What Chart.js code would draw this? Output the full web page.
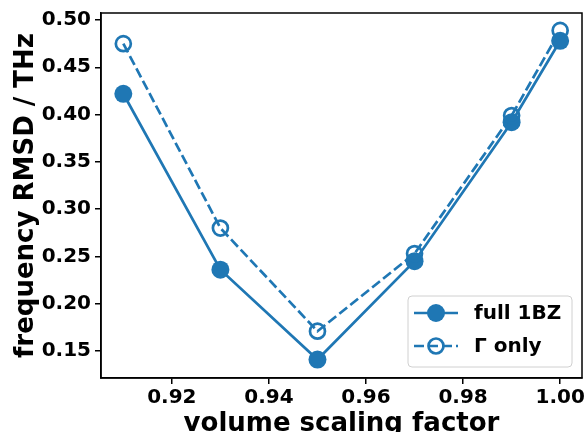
<!DOCTYPE html>
<html>
<head>
<meta charset="utf-8">
<script src="https://cdn.jsdelivr.net/npm/chart.js@4/dist/chart.umd.min.js"></script>
<style>
  html, body { margin: 0; padding: 0; background: #fff; }
  #wrap { width: 585px; height: 432px; }
</style>
</head>
<body>
<div id="wrap"><canvas id="canvas" width="585" height="432"></canvas></div>
<script>
const scaling = [0.91, 0.93, 0.95, 0.97, 0.99, 1.00];
const full1BZ = [0.422, 0.236, 0.141, 0.245, 0.392, 0.478];
const gammaOnly = [0.475, 0.280, 0.171, 0.253, 0.399, 0.489];
const xTicks = [0.92, 0.94, 0.96, 0.98, 1.00];
const yTicks = [0.15, 0.20, 0.25, 0.30, 0.35, 0.40, 0.45, 0.50];

const blue = '#1f77b4';
const fontFam = '"DejaVu Sans", sans-serif';
const dash = [10, 4];

const toPoints = (ys) => scaling.map((x, i) => ({x: x, y: ys[i]}));

// frame, axis titles and legend box drawn on top
const extras = {
    id: 'extras',
    afterDraw(chart) {
        const ctx = chart.ctx;
        const a = chart.chartArea;
        ctx.save();
        ctx.strokeStyle = '#000';
        ctx.lineWidth = 1.5;
        ctx.strokeRect(a.left, a.top, a.right - a.left, a.bottom - a.top);

        ctx.fillStyle = '#000';
        ctx.font = 'bold 26px ' + fontFam;
        ctx.textAlign = 'center';
        ctx.textBaseline = 'alphabetic';
        ctx.fillText('volume scaling factor', (a.left + a.right) / 2, 431);
        ctx.save();
        ctx.translate(33, (a.top + a.bottom) / 2);
        ctx.rotate(-Math.PI / 2);
        ctx.fillText('frequency RMSD / THz', 0, 0);
        ctx.restore();

        // legend
        const bx = 408, by = 296, bw = 164, bh = 71, r = 4;
        ctx.beginPath();
        ctx.moveTo(bx + r, by);
        ctx.arcTo(bx + bw, by, bx + bw, by + bh, r);
        ctx.arcTo(bx + bw, by + bh, bx, by + bh, r);
        ctx.arcTo(bx, by + bh, bx, by, r);
        ctx.arcTo(bx, by, bx + bw, by, r);
        ctx.closePath();
        ctx.fillStyle = 'rgba(255,255,255,0.8)';
        ctx.fill();
        ctx.strokeStyle = '#d0d0d0';
        ctx.lineWidth = 1;
        ctx.stroke();

        const rows = [
            {label: 'full 1BZ', y: 313, dash: [], filled: true},
            {label: 'Γ only', y: 346, dash: dash, filled: false}
        ];
        rows.forEach(row => {
            ctx.strokeStyle = blue;
            ctx.lineWidth = 2.7;
            ctx.setLineDash(row.dash);
            ctx.beginPath();
            ctx.moveTo(414, row.y);
            ctx.lineTo(458, row.y);
            ctx.stroke();
            ctx.setLineDash([]);
            ctx.beginPath();
            if (row.filled) {
                ctx.arc(436, row.y, 9, 0, Math.PI * 2);
                ctx.fillStyle = blue;
                ctx.fill();
            } else {
                ctx.arc(436, row.y, 7.5, 0, Math.PI * 2);
                ctx.stroke();
            }
            ctx.fillStyle = '#000';
            ctx.font = 'bold 20px ' + fontFam;
            ctx.textAlign = 'left';
            ctx.textBaseline = 'middle';
            ctx.fillText(row.label, 474, row.y + 1);
        });
        ctx.restore();
    }
};

new Chart(document.getElementById('canvas'), {
    type: 'line',
    data: {
        datasets: [
            {
                label: 'full 1BZ',
                data: toPoints(full1BZ),
                borderColor: blue,
                backgroundColor: blue,
                borderWidth: 2.7,
                pointRadius: 9,
                pointBorderWidth: 0,
                pointBackgroundColor: blue,
                tension: 0,
                fill: false,
                order: 1
            },
            {
                label: 'Γ only',
                data: toPoints(gammaOnly),
                borderColor: blue,
                backgroundColor: 'rgba(0,0,0,0)',
                borderWidth: 2.7,
                borderDash: dash,
                pointRadius: 7.5,
                pointBorderWidth: 2.7,
                pointBorderColor: blue,
                pointBackgroundColor: 'rgba(0,0,0,0)',
                tension: 0,
                fill: false,
                order: 0
            }
        ]
    },
    options: {
        responsive: false,
        animation: false,
        devicePixelRatio: 1,
        layout: { autoPadding: false, padding: { top: 13, right: 3, left: 0, bottom: 0 } },
        plugins: {
            legend: { display: false },
            tooltip: { enabled: false }
        },
        scales: {
            x: {
                type: 'linear',
                min: 0.9054,
                max: 1.0045,
                afterBuildTicks: (scale) => { scale.ticks = xTicks.map(v => ({value: v})); },
                afterFit: (scale) => {
                    scale.height = 54;
                    scale.paddingLeft = 0;
                    scale.paddingRight = 0;
                },
                grid: { drawOnChartArea: false, drawTicks: true, tickLength: 6, color: '#000', lineWidth: 1.5 },
                border: { display: true, color: '#000', width: 1.5 },
                ticks: {
                    color: '#000',
                    padding: 2,
                    maxRotation: 0,
                    font: { family: fontFam, size: 20, weight: 'bold' },
                    callback: (v) => v.toFixed(2)
                }
            },
            y: {
                type: 'linear',
                min: 0.1215,
                max: 0.5074,
                afterBuildTicks: (scale) => { scale.ticks = yTicks.map(v => ({value: v})); },
                afterFit: (scale) => {
                    scale.width = 101;
                    scale.paddingTop = 0;
                    scale.paddingBottom = 0;
                },
                grid: { drawOnChartArea: false, drawTicks: true, tickLength: 6, color: '#000', lineWidth: 1.5 },
                border: { display: true, color: '#000', width: 1.5 },
                ticks: {
                    color: '#000',
                    padding: 4,
                    font: { family: fontFam, size: 20, weight: 'bold' },
                    callback: (v) => v.toFixed(2)
                }
            }
        }
    },
    plugins: [extras]
});
</script>
</body>
</html>
